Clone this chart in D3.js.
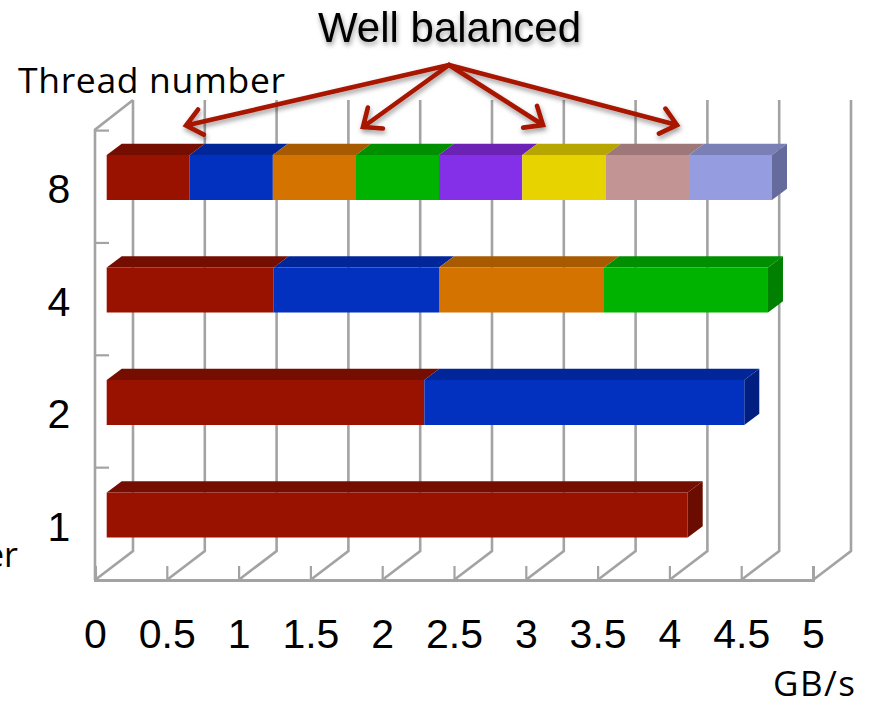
<!DOCTYPE html>
<html>
<head>
<meta charset="utf-8">
<title>Well balanced</title>
<script src="https://cdn.jsdelivr.net/npm/d3@7"></script>
<style>
  html, body { margin: 0; padding: 0; background: #fff; overflow: hidden; }
  text { fill: #000; }
  .sans { font-family: "Liberation Sans", Arial, sans-serif; }
  .label { font-family: "Open Sans", "Noto Sans", sans-serif; }
</style>
</head>
<body>
<div id="chart"></div>
<script>
// Values, GB/s per thread
const threadCounts = ['8', '4', '2', '1'];
const thread8Values = [0.578, 0.579, 0.579, 0.578, 0.58, 0.583, 0.578, 0.578];
const thread4Values = [1.163, 1.151, 1.149, 1.142];
const thread2Values = [2.212, 2.228];
const thread1Values = [4.046];
const valueTicks = [0, 0.5, 1, 1.5, 2, 2.5, 3, 3.5, 4, 4.5, 5];

// Thread colours: front, top, side
const frontColors = ['#991200', '#0230bf', '#d57300', '#00b300', '#8330e8', '#e6d300', '#c29494', '#959cdf'];
const topColors = ['#750e00', '#01269a', '#a85a00', '#008f00', '#6b22b5', '#b8a600', '#9e7878', '#7a7fb5'];
const sideColors = ['#6b0c00', '#011f80', '#8a4b00', '#008000', '#5a1c99', '#9c8d00', '#856565', '#666b9e'];

const rows = [thread8Values, thread4Values, thread2Values, thread1Values];

const svg = d3.select('#chart').append('svg')
    .attr('width', 870)
    .attr('height', 702);

const defs = svg.append('defs');
const shadow = defs.append('filter').attr('id', 'shadow')
    .attr('x', '-10%').attr('y', '-30%').attr('width', '120%').attr('height', '170%');
shadow.append('feDropShadow')
    .attr('dx', 1).attr('dy', 3).attr('stdDeviation', 2.5)
    .attr('flood-color', '#000').attr('flood-opacity', 0.4);

// Scales: floor front edge, back wall, bars
const floorY = 580;
const wallTop = 100;
const wallDx = 38;
const wallDy = 29;
const barStart = 106.7;
const barDx = 15;
const barDy = 11.3;
const unit = (813 - 95) / 5;

const x = d3.scaleLinear().domain([0, 5]).range([95, 813]);
const xBar = d3.scaleLinear().domain([0, 5]).range([barStart, barStart + 5 * unit]);
const y = d3.scaleBand().domain(threadCounts).range([155, 537.5]).paddingInner(0.6);
const yTick = d3.scaleLinear().domain([0, 4]).range([floorY, 130.6]);

const gridColor = '#a3a3a3';

// Back wall verticals and floor diagonals
const grid = svg.append('g').attr('fill', 'none').attr('stroke', gridColor).attr('stroke-width', 2.6);
grid.selectAll('.wall')
    .data(valueTicks)
    .enter()
    .append('path')
    .attr('d', d => `M${x(d)},${floorY}L${x(d) + wallDx},${floorY - wallDy}V${wallTop}`);

// Left wall
grid.append('path')
    .attr('d', `M${x(0)},${floorY}V${yTick(4) - 1}L${x(0) + wallDx},${wallTop}`);

// Value axis along the floor
const xAxis = svg.append('g')
    .attr('transform', `translate(0,${floorY})`)
    .call(d3.axisBottom(x).tickValues(valueTicks).tickSize(-14).tickPadding(39).tickFormat(d => d));
xAxis.select('.domain').attr('stroke', gridColor).attr('stroke-width', 3);
xAxis.selectAll('line').attr('stroke', gridColor).attr('stroke-width', 2.2);
xAxis.selectAll('text')
    .attr('class', 'sans')
    .style('font-size', '41px')
    .style('fill', '#000');

// Left wall ticks
svg.append('g')
    .selectAll('line')
    .data([1, 2, 3, 4])
    .enter()
    .append('line')
    .attr('x1', x(0) + 1)
    .attr('x2', x(0) + 14)
    .attr('y1', d => yTick(d))
    .attr('y2', d => yTick(d))
    .attr('stroke', gridColor)
    .attr('stroke-width', 2.2);

// Thread number labels
svg.append('g')
    .selectAll('text')
    .data(threadCounts)
    .enter()
    .append('text')
    .attr('class', 'sans')
    .attr('x', 59)
    .attr('y', d => y(d) + y.bandwidth() + 3)
    .attr('text-anchor', 'middle')
    .style('font-size', '41px')
    .text(d => d);

// Stacked 3D bars
rows.forEach((values, rowIndex) => {
    const top = y(threadCounts[rowIndex]);
    const h = y.bandwidth();
    const g = svg.append('g');
    let sum = 0;
    const stacked = values.map((v, i) => {
        const seg = { start: sum, end: sum + v, i };
        sum += v;
        return seg;
    });

    g.selectAll('.top')
        .data(stacked)
        .enter()
        .append('path')
        .attr('fill', d => topColors[d.i])
        .attr('d', d => `M${xBar(d.start)},${top}l${barDx},${-barDy}H${xBar(d.end) + barDx}l${-barDx},${barDy}Z`);

    const last = stacked[stacked.length - 1];
    g.append('path')
        .attr('fill', sideColors[last.i])
        .attr('d', `M${xBar(last.end)},${top}l${barDx},${-barDy}v${h}l${-barDx},${barDy}Z`);

    g.selectAll('.front')
        .data(stacked)
        .enter()
        .append('rect')
        .attr('x', d => xBar(d.start))
        .attr('y', top)
        .attr('width', d => xBar(d.end) - xBar(d.start))
        .attr('height', h)
        .attr('fill', d => frontColors[d.i]);
});

// Annotation arrows
const arrowFrom = [449, 65];
const arrowTips = [[186, 125.5], [363, 127], [543, 125], [677, 125]];
const arrowColor = '#a81400';
const arrows = svg.append('g')
    .attr('fill', 'none')
    .attr('stroke', arrowColor)
    .attr('stroke-width', 4.6)
    .attr('stroke-linecap', 'round')
    .attr('stroke-linejoin', 'miter')
    .attr('filter', 'url(#shadow)');
arrows.selectAll('path')
    .data(arrowTips)
    .enter()
    .append('path')
    .attr('d', ([tx, ty]) => {
        const a = Math.atan2(arrowFrom[1] - ty, arrowFrom[0] - tx);
        const len = 20;
        const spread = 0.7;
        const bx1 = tx + len * Math.cos(a + spread);
        const by1 = ty + len * Math.sin(a + spread);
        const bx2 = tx + len * Math.cos(a - spread);
        const by2 = ty + len * Math.sin(a - spread);
        return `M${arrowFrom[0]},${arrowFrom[1]}L${tx},${ty}M${bx1},${by1}L${tx},${ty}L${bx2},${by2}`;
    });

// Titles
svg.append('text')
    .attr('class', 'sans')
    .attr('x', 449.5)
    .attr('y', 42)
    .attr('text-anchor', 'middle')
    .attr('filter', 'url(#shadow)')
    .style('font-size', '42px')
    .text('Well balanced');

svg.append('text')
    .attr('class', 'label')
    .attr('x', 18)
    .attr('y', 93)
    .style('font-size', '35.5px')
    .attr('textLength', 267)
    .text('Thread number');

svg.append('text')
    .attr('class', 'label')
    .attr('x', 18)
    .attr('y', 567)
    .attr('text-anchor', 'end')
    .style('font-size', '34px')
    .text('er');

svg.append('text')
    .attr('class', 'label')
    .attr('x', 773)
    .attr('y', 696)
    .style('font-size', '35px')
    .attr('textLength', 82)
    .text('GB/s');
</script>
</body>
</html>
